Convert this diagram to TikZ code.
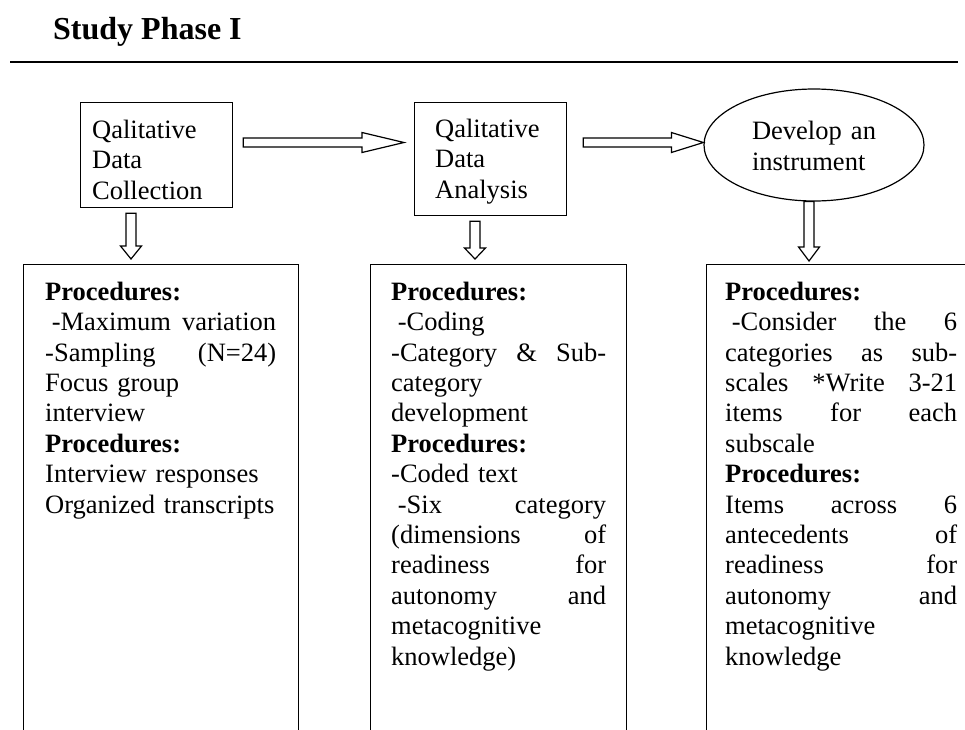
\documentclass[tikz,border=0pt]{standalone}
\usepackage{fontspec}
\setmainfont{Liberation Serif}
\usetikzlibrary{calc,shapes.geometric}
\setlength\parindent{0pt}
\newcommand\bodyfont{\fontsize{26.5pt}{30.4pt}\selectfont}
\newcommand\fst{\rule{0pt}{20pt}}
\newcommand\J[2]{\leavevmode\hbox to #1{#2}}
\newcommand\hblock[3]{\draw[blk] ($(#1)+(0,-4.5)$) -- ($(#2)+(-#3,-4.5)$) -- ($(#2)+(-#3,-10)$) -- (#2) -- ($(#2)+(-#3,10)$) -- ($(#2)+(-#3,4.5)$) -- ($(#1)+(0,4.5)$) -- cycle;}
\newcommand\vblock[3]{\draw[blk] ($(#1)+(-5,0)$) -- ($(#2)+(-5,-#3)$) -- ($(#2)+(-10.5,-#3)$) -- (#2) -- ($(#2)+(10.5,-#3)$) -- ($(#2)+(5,-#3)$) -- ($(#1)+(5,0)$) -- cycle;}
\begin{document}
\begin{tikzpicture}[x=1pt,y=-1pt,
  box/.style={draw, line width=1.2pt, inner sep=0pt, anchor=north west},
  txt/.style={anchor=north west, inner sep=0pt, align=left, font=\bodyfont},
  blk/.style={draw, line width=1.2pt, fill=white, line join=miter}]
\clip (0,0) rectangle (965,729);
\fill[white] (0,0) rectangle (965,729);
% title
\node[anchor=base west, inner sep=0pt, font=\fontsize{32pt}{37pt}\selectfont\bfseries] (title) at (53,39) {Study Phase I};
\coordinate (r1) at (10,61.5);
\coordinate (r2) at (958,61.5);
\draw[line width=2pt] (r1) -- (r2);
% top row
\node[box, minimum width=152pt, minimum height=105pt] (b1) at (80,102) {};
\node[txt, text width=130pt] (b1t) at (92,118) {\fst Qalitative\\Data\\Collection};
\node[box, minimum width=152pt, minimum height=113pt] (b2) at (414,102) {};
\node[txt, text width=125pt] (b2t) at (435,117) {\fst Qalitative\\Data\\Analysis};
\node[draw, line width=1.2pt, ellipse, minimum width=220pt, minimum height=112pt, inner sep=0pt,
      text width=124pt, align=left, font=\bodyfont] (el) at (814,145) {\fst\J{124pt}{Develop\hfill an}\\instrument};
% bottom boxes
\node[box, minimum width=275pt, minimum height=520pt] (p1) at (23,264) {};
\node[box, minimum width=256pt, minimum height=520pt] (p2) at (370,264) {};
\node[box, minimum width=300pt, minimum height=520pt] (p3) at (706,264) {};
\node[txt, text width=231pt] (p1t) at (45,280) {\fst\textbf{Procedures:}\\
\J{231pt}{\hspace*{.25em}-Maximum\hfill variation}\\
\J{231pt}{-Sampling\hfill (N=24)}\\
Focus group\\
interview\\
\textbf{Procedures:}\\
Interview responses\\
Organized transcripts};
\node[txt, text width=215pt] (p2t) at (391,280) {\fst\textbf{Procedures:}\\
\hspace*{.25em}-Coding\\
\J{215pt}{-Category\hfill \&\hfill Sub-}\\
category\\
development\\
\textbf{Procedures:}\\
-Coded text\\
\J{215pt}{\hspace*{.25em}-Six\hfill category}\\
\J{215pt}{(dimensions\hfill of}\\
\J{215pt}{readiness\hfill for}\\
\J{215pt}{autonomy\hfill and}\\
metacognitive\\
knowledge)};
\node[txt, text width=232pt] (p3t) at (725,280) {\fst\textbf{Procedures:}\\
\J{232pt}{\hspace*{.25em}-Consider\hfill the\hfill 6}\\
\J{232pt}{categories\hfill as\hfill sub-}\\
\J{232pt}{scales\hfill *Write\hfill 3-21}\\
\J{232pt}{items\hfill for\hfill each}\\
subscale\\
\textbf{Procedures:}\\
\J{232pt}{Items\hfill across\hfill 6}\\
\J{232pt}{antecedents\hfill of}\\
\J{232pt}{readiness\hfill for}\\
\J{232pt}{autonomy\hfill and}\\
metacognitive\\
knowledge};
% connectors
\coordinate (a1s) at ($(b1.east|-0,142.5)+(10,0)$);
\coordinate (a1e) at ($(b2.west|-0,142.5)+(-10,0)$);
\hblock{a1s}{a1e}{42}
\coordinate (a2s) at ($(b2.east|-0,142.5)+(16,0)$);
\coordinate (a2e) at (el.west|-0,142.5);
\hblock{a2s}{a2e}{32}
\coordinate (d1s) at ($(b1.south west)+(51,5)$);
\coordinate (d1e) at ($(b1.south west|-p1.north)+(51,-5)$);
\vblock{d1s}{d1e}{13}
\coordinate (d2s) at ($(b2.south west)+(61,5)$);
\coordinate (d2e) at ($(b2.south west|-p2.north)+(61,-5)$);
\vblock{d2s}{d2e}{11}
\coordinate (d3s) at ($(el.south)+(-5,0)$);
\coordinate (d3e) at ($(el.south|-p3.north)+(-5,-3)$);
\vblock{d3s}{d3e}{14}
\end{tikzpicture}
\end{document}
